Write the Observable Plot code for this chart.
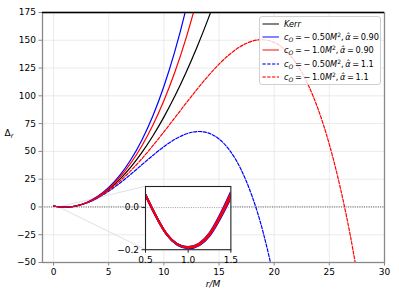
<!DOCTYPE html>
<html><head><meta charset="utf-8">
<script src="https://cdn.jsdelivr.net/npm/d3@7"></script>
<script src="https://cdn.jsdelivr.net/npm/@observablehq/plot@0.6"></script>
<style>
body{margin:0;background:#fff;}
#wrap{position:relative;width:399px;height:299px;overflow:hidden;font-family:"DejaVu Sans",sans-serif;}
#wrap svg{position:absolute;}
#wrap svg text{fill:#000;}
#legend{position:absolute;left:259px;top:16px;width:122px;height:69px;background:rgba(255,255,255,0.8);border:1px solid #d0d0d0;border-radius:3px;box-sizing:border-box;font-size:8.2px;color:#000;}
#legend .row{position:absolute;left:0;height:12px;line-height:12px;white-space:nowrap;}
#legend .row svg{position:absolute;left:2px;top:4px;}
#legend .lab{position:absolute;left:24px;top:0;}
#legend sub,#legend sup{font-size:6px;line-height:0;}
#legend sub{vertical-align:-1.5px;}
#legend sup{vertical-align:3.5px;}
</style></head><body><div id="wrap"></div>
<script>
// ---- data ----
const rValues = [0,0.25,0.5,0.75,1,1.25,1.5,2,3,4,5,6,7,8,9,10,11,12,13,14,15,16,17,18,19,20,21,22,23,24,25,26,27,28];
const kerr = [0.81,0.3725,0.06,-0.1275,-0.19,-0.1275,0.06,0.81,3.81,8.81,15.81,24.81,35.81,48.81,63.81,80.81,99.81,120.81,143.81,168.81,195.81];
const blueSolid = [0.81,0.373,0.06,-0.1266,-0.187,-0.1208,0.074,0.854,4.03,9.52,17.54,28.39,42.44,60.11,81.92,108.41,140.22,178.04,222.6];
const redSolid = [0.81,0.373,0.06,-0.127,-0.1885,-0.1239,0.0675,0.834,3.93,9.19,16.74,26.73,39.36,54.87,73.52,95.61,121.48,151.5,186.08];
const blueDashed = [0.81,0.372,0.06,-0.1283,-0.193,-0.134,0.047,0.767,3.59,8.13,14.15,21.36,29.42,37.91,46.36,54.21,60.86,65.65,67.84,66.62,61.15,50.48,33.64,9.57,-22.84,-64.79];
const redDashed = [0.81,0.372,0.06,-0.1279,-0.191,-0.1307,0.0533,0.789,3.7,8.47,14.98,23.09,32.62,43.36,55.08,67.51,80.34,93.23,105.82,117.72,128.48,137.65,144.73,149.19,150.48,148.01,141.15,129.25,111.62,87.55,56.28,17.03,-31.0,-88.7];

const seriesKeys = ["kerr","blueSolid","redSolid","blueDashed","redDashed"];
const seriesValues = [kerr, blueSolid, redSolid, blueDashed, redDashed];
const seriesColors = ["#000000","#0000ff","#ff0000","#0000ff","#ff0000"];
const seriesDash = [null,null,null,"3.2,1.6","3.2,1.6"];
const legendLabels = [
  "<i>Kerr</i>",
  "<i>c</i><sub><i>O</i></sub>&#8201;=&#8201;−&#8201;0.50<i>M</i><sup>2</sup>,&#8201;<i>α̂</i>&#8201;=&#8201;0.90",
  "<i>c</i><sub><i>O</i></sub>&#8201;=&#8201;−&#8201;1.0<i>M</i><sup>2</sup>,&#8201;<i>α̂</i>&#8201;=&#8201;0.90",
  "<i>c</i><sub><i>O</i></sub>&#8201;=&#8201;−&#8201;0.50<i>M</i><sup>2</sup>,&#8201;<i>α̂</i>&#8201;=&#8201;1.1",
  "<i>c</i><sub><i>O</i></sub>&#8201;=&#8201;−&#8201;1.0<i>M</i><sup>2</sup>,&#8201;<i>α̂</i>&#8201;=&#8201;1.1"
];

const xDomain = [-1, 30];
const yDomain = [-50, 175];
const xTicks = [0,5,10,15,20,25,30];
const yTicks = [-50,-25,0,25,50,75,100,125,150,175];
const insetXDomain = [0.5, 1.5];
const insetYDomain = [-0.2, 0.1];
const insetXTicks = [0.5, 1.0, 1.5];
const insetYTicks = [-0.2, 0.0];

// layout (main-axis data units where the inset box sits)
const insetBox = {x: [8.32, 16.06], y: [-38.3, 18.6]};

(function () {
const table = [];
seriesValues.forEach((vals, i) => {
  vals.forEach((v, j) => { if (v != null) table.push({s: seriesKeys[i], r: rValues[j], d: v}); });
});

const font = "'DejaVu Sans', sans-serif";
const fs = "9px";
const wrap = document.getElementById("wrap");

function lineMarks(data, w, clip, dashed) {
  return seriesKeys.map((k, i) => Plot.line(data.filter(d => d.s === k), {
    x: "r", y: "d", curve: "natural", stroke: seriesColors[i],
    strokeWidth: w, clip, ariaDescription: "series-" + i,
    ...(dashed && seriesDash[i] ? {strokeDasharray: seriesDash[i]} : {})
  }));
}
function applyDashes(node) {
  seriesDash.forEach((dsh, i) => {
    if (!dsh) return;
    const g = d3.select(node).selectAll(`[aria-description="series-${i}"]`);
    g.attr("stroke-dasharray", dsh);
    g.selectAll("path").attr("stroke-dasharray", dsh);
  });
}

const connectors = [
  {x1: insetXDomain[0], y1: insetYDomain[1], x2: insetBox.x[0], y2: insetBox.y[1]},
  {x1: insetXDomain[0], y1: insetYDomain[0], x2: insetBox.x[0], y2: insetBox.y[0]}
];

const main = Plot.plot({
  width: 399, height: 299,
  marginLeft: 42, marginRight: 15, marginTop: 12, marginBottom: 37,
  style: {fontFamily: font, fontSize: fs, color: "#888", background: "transparent", overflow: "visible"},
  x: {domain: xDomain, ticks: xTicks, tickSize: 3.5, tickPadding: 2.5, label: null, tickFormat: d => String(d)},
  y: {domain: yDomain, ticks: yTicks, tickSize: 3.5, tickPadding: 3, label: null},
  marks: [
    Plot.ruleX(xTicks, {stroke: "#e6e6e6", strokeWidth: 0.8}),
    Plot.ruleY(yTicks, {stroke: "#e6e6e6", strokeWidth: 0.8}),
    Plot.ruleY([0], {stroke: "#333", strokeWidth: 0.8, strokeDasharray: "1,1.3"}),
    Plot.link(connectors, {x1: "x1", y1: "y1", x2: "x2", y2: "y2", stroke: "#d8d8d8", strokeWidth: 0.8}),
    ...lineMarks(table, 1.2, true, true),
    Plot.frame({stroke: "#888", strokeWidth: 1.3}),
    Plot.ruleY([yDomain[1]], {stroke: "#000", strokeWidth: 1.3})
  ]
});
main.style.left = "0px"; main.style.top = "0px";
applyDashes(main);
wrap.appendChild(main);

const svg = d3.select(main);
const yl = svg.append("text").attr("x", 9).attr("y", 136).style("font-family", font).style("font-size", fs);
yl.append("tspan").text("Δ");
yl.append("tspan").attr("dy", 2).style("font-size", "6.4px").style("font-style", "italic").text("r");
svg.append("text").attr("x", 213).attr("y", 287).attr("text-anchor", "middle")
  .style("font-family", font).style("font-size", fs).style("font-style", "italic").text("r/M");

const xs = main.scale("x"), ys = main.scale("y");
const bLeft = xs.apply(insetBox.x[0]), bRight = xs.apply(insetBox.x[1]);
const bTop = ys.apply(insetBox.y[1]), bBottom = ys.apply(insetBox.y[0]);
const mL = 30, mR = 8, mT = 2, mB = 16;
const insetData = table.filter(d => d.r >= insetXDomain[0] && d.r <= insetXDomain[1]);
const inset = Plot.plot({
  width: (bRight - bLeft) + mL + mR, height: (bBottom - bTop) + mT + mB,
  marginLeft: mL, marginRight: mR, marginTop: mT, marginBottom: mB,
  style: {fontFamily: font, fontSize: fs, color: "#222", background: "transparent", overflow: "visible"},
  x: {domain: insetXDomain, ticks: insetXTicks, tickFormat: ".1f", tickSize: 3.5, tickPadding: 3, label: null},
  y: {domain: insetYDomain, ticks: insetYTicks, tickFormat: ".1f", tickSize: 3.5, tickPadding: 3, label: null},
  marks: [
    Plot.frame({fill: "white"}),
    Plot.ruleY([0], {stroke: "#888", strokeWidth: 0.8, strokeDasharray: "1,1.3"}),
    ...lineMarks(insetData, 2, true, false),
    Plot.frame({stroke: "#222", strokeWidth: 1.1})
  ]
});
inset.style.left = (bLeft - mL) + "px";
inset.style.top = (bTop - mT) + "px";
wrap.appendChild(inset);

const legend = document.createElement("div");
legend.id = "legend";
legendLabels.forEach((lab, i) => {
  const row = document.createElement("div");
  row.className = "row";
  row.style.top = (0.7 + i * 13.3) + "px";
  row.style.width = "120px";
  const dash = seriesDash[i] ? `stroke-dasharray="${seriesDash[i]}"` : "";
  row.innerHTML = `<svg width="18" height="4"><line x1="0.5" y1="2" x2="17" y2="2" stroke="${seriesColors[i]}" stroke-opacity="0.75" stroke-width="1.3" ${dash}/></svg><span class="lab">${lab}</span>`;
  legend.appendChild(row);
});
wrap.appendChild(legend);
})();
</script>
</body></html>
